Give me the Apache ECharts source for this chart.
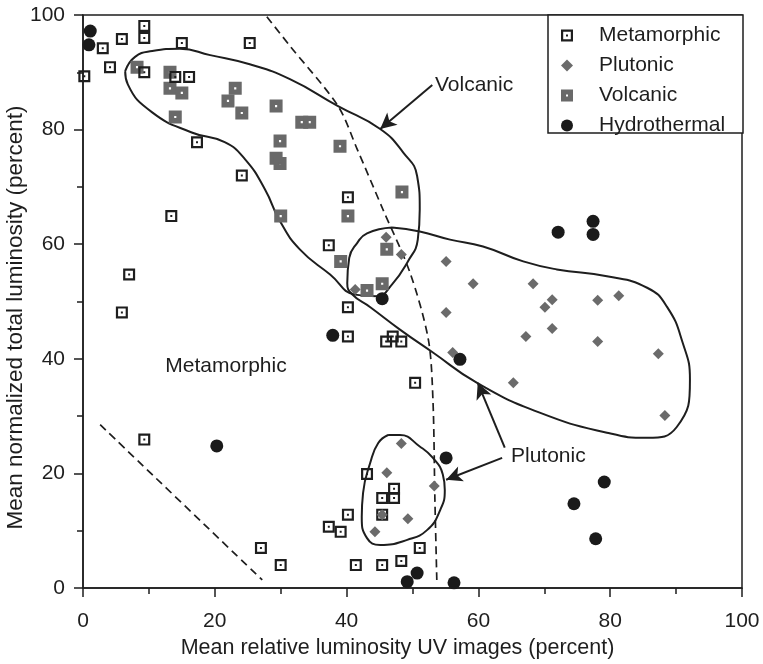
<!DOCTYPE html>
<html lang="en">
  <head>
    <meta charset="UTF-8" />
    <title>luminosity scatter</title>
    <script src="https://cdn.jsdelivr.net/npm/echarts@6/dist/echarts.min.js"></script>
    <style>
      body { margin: 0; background: #fff; }
      #main { width: 763px; height: 664px; }
    </style>
  </head>
  <body>
    <div id="main"></div>
    <script>
      // [x, y] = [mean relative luminosity UV, mean normalized total luminosity]
      var metamorphic = [
        [0.2, 89.3], [3.0, 94.2], [4.1, 90.9], [5.9, 95.8], [9.3, 98.1], [9.3, 96.0],
        [9.3, 90.0], [14.0, 89.2], [16.1, 89.2], [15.0, 95.1], [25.3, 95.1], [17.3, 77.8],
        [24.1, 72.0], [13.4, 64.9], [7.0, 54.7], [5.9, 48.1], [9.3, 25.9], [40.2, 68.2],
        [37.3, 59.8], [40.2, 49.0], [40.2, 43.9], [46.0, 43.0], [47.0, 43.9], [48.3, 43.0],
        [50.4, 35.8], [43.1, 19.9], [47.2, 17.3], [45.4, 15.7], [47.2, 15.7], [45.4, 12.8],
        [40.2, 12.8], [37.3, 10.7], [39.1, 9.8], [51.1, 7.0], [48.3, 4.7], [41.4, 4.0],
        [45.4, 4.0], [27.0, 7.0], [30.0, 4.0]
      ];
      var plutonic = [
        [46.0, 61.2], [48.3, 58.2], [41.3, 52.1], [55.1, 57.0], [59.2, 53.1], [55.1, 48.1],
        [56.1, 41.1], [65.3, 35.8], [68.3, 53.1], [71.2, 50.3], [70.1, 49.0], [78.1, 50.2],
        [81.3, 51.0], [71.2, 45.3], [67.2, 43.9], [78.1, 43.0], [87.3, 40.9], [88.3, 30.1],
        [48.3, 25.2], [46.1, 20.1], [53.3, 17.8], [45.4, 12.8], [49.3, 12.1], [44.3, 9.8]
      ];
      var volcanic = [
        [8.2, 90.9], [13.2, 90.0], [13.2, 87.2], [15.0, 86.4], [14.0, 82.2], [23.1, 87.2],
        [22.0, 85.0], [24.1, 82.9], [29.3, 84.1], [29.9, 78.0], [29.3, 75.0], [29.9, 74.1],
        [33.2, 81.3], [34.4, 81.3], [39.0, 77.1], [48.4, 69.1], [30.0, 64.9], [40.2, 64.9],
        [46.1, 59.1], [39.1, 57.0], [43.1, 51.9], [45.4, 53.1]
      ];
      var hydrothermal = [
        [1.1, 97.2], [0.9, 94.8], [45.4, 50.5], [37.9, 44.1], [57.2, 39.9], [72.1, 62.1],
        [77.4, 64.0], [77.4, 61.7], [20.3, 24.8], [55.1, 22.7], [50.7, 2.6], [49.2, 1.1],
        [56.3, 0.9], [79.1, 18.5], [74.5, 14.7], [77.8, 8.6]
      ];

      // outlines drawn on the plot (data units)
      var volcanicZone = [
        [6.4, 90.2], [7.9, 92.7], [10.5, 93.7], [14.7, 94.1], [19.3, 93.0], [25.3, 91.4],
        [31.4, 88.8], [38.7, 84.1], [45.1, 80.1], [48.6, 76.0], [50.7, 71.9], [51.1, 66.1],
        [50.8, 60.8], [49.3, 57.0], [46.9, 53.0], [44.6, 50.9], [41.3, 51.2], [37.5, 54.7],
        [32.9, 59.1], [29.9, 64.0], [27.6, 69.6], [24.6, 74.8], [21.5, 77.8], [16.5, 79.5],
        [10.5, 83.0], [6.8, 87.9], [6.4, 90.2]
      ];
      var plutonicZone = [
        [46.9, 62.9], [51.1, 62.2], [55.7, 60.8], [60.7, 59.6], [66.8, 57.0], [71.9, 55.6],
        [79.5, 54.4], [85.6, 52.4], [88.6, 49.1], [91.0, 42.8], [92.1, 36.4], [90.1, 28.1],
        [85.6, 26.2], [79.5, 27.1], [69.3, 30.6], [59.8, 35.8], [53.1, 41.1], [48.1, 45.1],
        [43.6, 49.0], [40.8, 51.3], [40.1, 53.2], [40.4, 57.6], [41.6, 60.2], [43.1, 61.9],
        [46.9, 62.9]
      ];
      var plutonicSmall = [
        [46.3, 26.7], [48.1, 26.7], [51.1, 24.7], [53.1, 22.7], [54.6, 19.8], [54.9, 17.1],
        [54.2, 13.6], [52.2, 10.1], [49.2, 8.4], [45.1, 7.5], [43.1, 8.7], [42.3, 12.4],
        [42.5, 16.6], [43.6, 21.9], [44.8, 25.3], [46.3, 26.7]
      ];
      var boundaryA = [
        [27.9, 99.7], [31.4, 94.6], [38.7, 84.1], [41.6, 76.6], [45.5, 66.1], [49.6, 55.1],
        [52.4, 43.4], [53.1, 32.9], [53.4, 15.4], [53.7, 0.9]
      ];
      var boundaryB = [[2.6, 28.5], [27.2, 1.4]];

      var arrows = [
        [[53.0, 87.8], [45.1, 80.1]],
        [[64.0, 24.5], [59.9, 35.8]],
        [[63.6, 22.7], [55.1, 18.9]]
      ];

      var font = 'Liberation Sans, Arial, sans-serif';
      var ink = '#1e1e1e';

      var myChart = echarts.init(document.getElementById('main'));

      function outline(data, dashed) {
        return {
          type: 'line',
          data: data,
          smooth: dashed ? 0.3 : 0.5,
          showSymbol: false,
          silent: true,
          z: 1,
          lineStyle: { color: ink, width: dashed ? 1.7 : 2, type: dashed ? [8, 5] : 'solid' }
        };
      }

      var option = {
        animation: false,
        grid: {
          left: 83, right: 21, top: 15, bottom: 76,
          outerBoundsMode: 'none', containLabel: false,
          show: true, borderColor: ink, borderWidth: 1.5
        },
        xAxis: {
          type: 'value', min: 0, max: 100, interval: 20,
          name: 'Mean relative luminosity UV images (percent)',
          nameLocation: 'middle', nameGap: 49, nameMoveOverlap: false,
          nameTextStyle: { fontFamily: font, fontSize: 21.5, color: ink, padding: [0, 30, 0, 0] },
          axisLine: { lineStyle: { color: ink, width: 1.5 } },
          axisTick: { inside: false, length: 9, lineStyle: { color: ink, width: 1.5 } },
          minorTick: { show: true, splitNumber: 2, length: 6, lineStyle: { color: ink, width: 1.5 } },
          axisLabel: { fontFamily: font, fontSize: 21, color: ink, margin: 23 },
          splitLine: { show: false }
        },
        yAxis: {
          type: 'value', min: 0, max: 100, interval: 20,
          name: 'Mean normalized total luminosity (percent)',
          nameLocation: 'middle', nameGap: 56, nameMoveOverlap: false,
          nameTextStyle: { fontFamily: font, fontSize: 22.5, color: ink, padding: [0, 32, 0, 0] },
          axisLine: { lineStyle: { color: ink, width: 1.5 } },
          axisTick: { inside: false, length: 9, lineStyle: { color: ink, width: 1.5 } },
          minorTick: { show: true, splitNumber: 2, length: 6, lineStyle: { color: ink, width: 1.5 } },
          axisLabel: { fontFamily: font, fontSize: 21, color: ink, margin: 18 },
          splitLine: { show: false }
        },
        legend: {
          data: ['Metamorphic', 'Plutonic', 'Volcanic', 'Hydrothermal'],
          orient: 'vertical',
          left: 561, top: 25,
          padding: 0,
          itemGap: 9,
          itemWidth: 12, itemHeight: 12,
          z: 10,
          textStyle: { fontFamily: font, fontSize: 21, color: ink, lineHeight: 20, padding: [0, 0, 0, 21] }
        },
        graphic: [
          { type: 'rect', z: 5, shape: { x: 548, y: 15, width: 195, height: 118 },
            style: { fill: '#fff', stroke: ink, lineWidth: 1.5 } },
          { type: 'text', x: 435, y: 85, style: { text: 'Volcanic', font: '21px ' + font, fill: ink, verticalAlign: 'middle' } },
          { type: 'text', x: 511, y: 456, style: { text: 'Plutonic', font: '21px ' + font, fill: ink, verticalAlign: 'middle' } },
          { type: 'text', x: 226, y: 366, style: { text: 'Metamorphic', font: '21px ' + font, fill: ink, align: 'center', verticalAlign: 'middle' } }
        ],
        series: [
          outline(volcanicZone, false),
          outline(plutonicZone, false),
          outline(plutonicSmall, false),
          outline(boundaryA, true),
          outline(boundaryB, true),
          {
            type: 'line', data: [], silent: true,
            markLine: {
              silent: true,
              symbol: ['none', 'arrow'],
              symbolSize: [12, 16],
              label: { show: false },
              lineStyle: { color: ink, width: 2, type: 'solid' },
              data: arrows.map(function (a) { return [{ coord: a[0] }, { coord: a[1] }]; })
            }
          },
          {
            name: 'Volcanic', type: 'scatter', data: volcanic, z: 2,
            symbol: 'path://M0,0H12V12H0Z M5,5V7H7V5Z', symbolSize: 13,
            itemStyle: { color: '#696969', opacity: 1 }
          },
          {
            name: 'Metamorphic', type: 'scatter', data: metamorphic, z: 3,
            symbol: 'path://M0,0H12V12H0Z M2.2,2.2V9.8H9.8V2.2Z M5,5H7V7H5Z', symbolSize: 12,
            itemStyle: { color: ink, opacity: 1 }
          },
          {
            name: 'Plutonic', type: 'scatter', data: plutonic, z: 4,
            symbol: 'path://M5,0L10,5L5,10L0,5Z', symbolSize: 11,
            itemStyle: { color: '#6b6b6b', opacity: 1 }
          },
          {
            name: 'Hydrothermal', type: 'scatter', data: hydrothermal, z: 5,
            symbol: 'circle', symbolSize: 13,
            itemStyle: { color: '#1a1a1a', opacity: 1 }
          }
        ]
      };

      myChart.setOption(option);
    </script>
  </body>
</html>
